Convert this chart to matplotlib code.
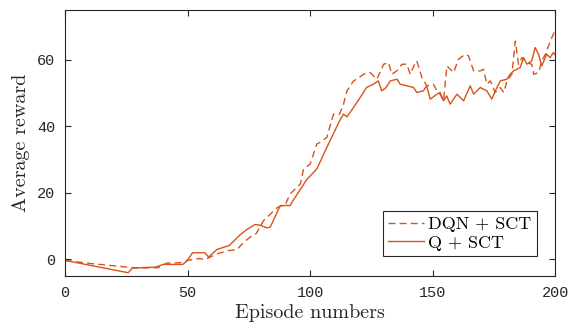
#!/usr/bin/env python3

import matplotlib
matplotlib.use('Agg')
import matplotlib.pyplot as plt

# DQN + SCT (dashed)
dqn_ep = [0, 10, 25, 30, 38, 41.5, 47, 50, 55, 57, 62, 67, 70, 73, 76, 78,
          81, 86.4, 90, 91.8, 96, 97.3, 100, 102.7, 104, 106.8, 109.5, 112,
          113.6, 115, 117.7, 119, 121.8, 124.5, 127.2, 130, 132, 133.3, 135.4,
          137.4, 139.5, 140.8, 142.9, 143.5, 145.6, 147.6, 150.3, 151.7, 153,
          154.4, 155.8, 158.5, 160.5, 163.3, 164.6, 166.7, 169.4, 170.7, 172.1,
          173.5, 175.5, 177.6, 179, 180.3, 182.3, 183.7, 185, 186.4, 188.4,
          190.4, 191.2, 193.2, 194.5, 196, 198, 200]
dqn_reward = [-0.3, -1.2, -2.3, -2.6, -2.5, -1.1, -1.0, -0.3, 0.3, -0.1, 1.7,
              2.7, 2.9, 5.2, 7.0, 7.8, 11.7, 15.5, 16.7, 19.7, 22.7, 27.2,
              28.7, 34.7, 35.2, 36.7, 43.7, 43.7, 46.7, 50.7, 53.7, 54.2, 55.7,
              56.2, 54.2, 58.7, 59.2, 55.7, 56.7, 58.7, 58.7, 55.7, 59.2, 59.7,
              54.7, 52.2, 52.7, 50.7, 49.7, 47.7, 58.2, 56.2, 60.2, 61.7, 61.2,
              56.7, 56.7, 57.2, 52.7, 53.7, 50.2, 51.7, 50.2, 53.7, 55.7, 65.7,
              58.7, 60.7, 59.2, 58.7, 55.7, 56.2, 59.7, 61.7, 65.7, 69.0]

# Q + SCT (solid)
q_ep = [0, 25.7, 27.5, 37, 40, 48, 49.7, 52, 57, 58.5, 62, 67, 71.4, 74,
        77.5, 79.6, 82.3, 83.7, 87.8, 91.8, 93, 98.6, 102.7, 106.8, 112,
        113.6, 115, 117.7, 120.4, 123, 125.8, 127.8, 129.2, 131, 132.7, 135.4,
        136.7, 139.5, 142.2, 143.5, 146.2, 147.5, 149, 151.7, 153, 154.4,
        155.7, 157.1, 159.9, 162.6, 165.3, 166.7, 169.4, 172.1, 174.1, 176.2,
        177.6, 180.3, 181.6, 183, 185.7, 187.1, 188.4, 190.4, 191.8, 193.2,
        194.5, 196.5, 197.9, 199.2, 200]
q_reward = [-0.3, -4.0, -2.6, -2.3, -1.5, -1.5, -0.5, 2.0, 2.0, 0.7, 3.0, 4.2,
            7.4, 8.9, 10.5, 10.3, 9.5, 9.7, 16.2, 16.2, 17.7, 24.0, 27.2,
            33.7, 41.7, 43.7, 42.9, 45.7, 48.7, 51.7, 52.7, 53.7, 50.7, 51.7,
            53.7, 54.2, 52.7, 52.2, 51.7, 50.2, 50.7, 52.2, 48.2, 49.7, 50.2,
            47.7, 49.2, 46.7, 49.7, 47.7, 52.2, 49.7, 51.7, 50.7, 48.2, 51.7,
            53.7, 54.2, 55.7, 56.7, 57.7, 60.7, 58.7, 59.7, 63.7, 61.7, 58.2,
            61.7, 60.7, 62.2, 61.5]

line_color = '#D95319'


def main():
    fig = plt.figure(figsize=(5.76, 3.35), dpi=100)
    ax = fig.add_axes([0.113, 0.176, 0.851, 0.794])

    ax.plot(dqn_ep, dqn_reward, '--', color=line_color, lw=1.0,
            dashes=(5, 3), label='DQN + SCT')
    ax.plot(q_ep, q_reward, '-', color=line_color, lw=1.0, label='Q + SCT')

    ax.set_xlim(0, 200)
    ax.set_ylim(-5, 75)
    ax.set_xticks([0, 50, 100, 150, 200])
    ax.set_yticks([0, 20, 40, 60])
    ax.tick_params(direction='in', top=True, right=True, length=4,
                   width=0.8, color='#262626', labelsize=11, pad=7)
    for lab in ax.get_xticklabels() + ax.get_yticklabels():
        lab.set_family('Liberation Mono')
        lab.set_color('#262626')
    for sp in ax.spines.values():
        sp.set_color('#262626')
        sp.set_linewidth(0.8)

    ax.set_xlabel('Episode numbers', family='cmr10', fontsize=14.5,
                  color='#262626', labelpad=3)
    ax.set_ylabel('Average reward', family='cmr10', fontsize=14.5,
                  color='#262626', labelpad=5)

    leg = ax.legend(loc='lower right', bbox_to_anchor=(0.962, 0.075),
                    prop={'family': 'cmr10', 'size': 13}, fancybox=False,
                    framealpha=1, edgecolor='#262626', handlelength=2.0,
                    handletextpad=0.2, borderpad=0.3, labelspacing=0.15,
                    borderaxespad=0)
    leg.get_frame().set_linewidth(0.8)

    fig.savefig('out.png', dpi=100)


if __name__ == '__main__':
    main()
